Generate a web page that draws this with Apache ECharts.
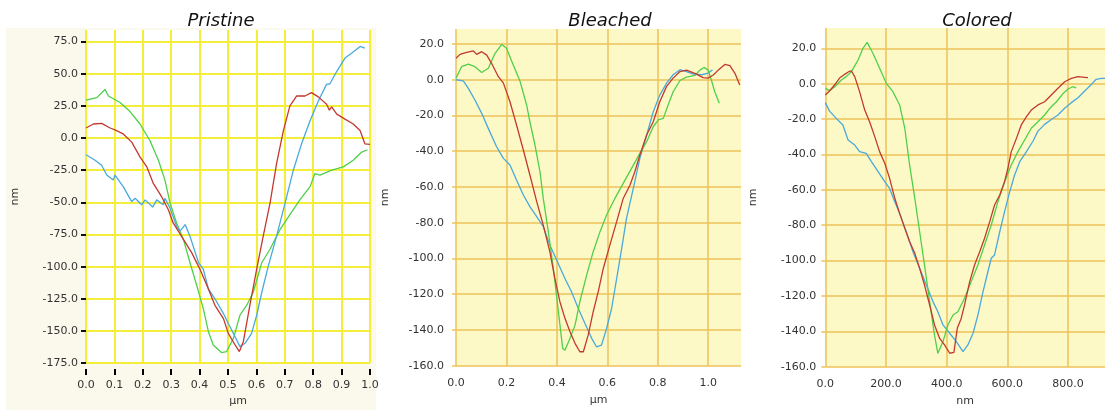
<!DOCTYPE html>
<html>
<head>
<meta charset="utf-8">
<title>AFM line profiles</title>
<script src="https://cdn.jsdelivr.net/npm/echarts/dist/echarts.min.js"></script>
<style>
  html, body { margin: 0; padding: 0; background: #ffffff; }
  #chart { width: 1105px; height: 412px; }
</style>
</head>
<body>
<div id="chart"></div>
<script>
// Panel titles and axis units
const panelTitles = ['Pristine', 'Bleached', 'Colored'];
const xUnits = ['µm', 'µm', 'nm'];
const yUnit = 'nm';

// Pristine profiles: [position (µm), height (nm)]
const pristineRed = [[0,7.8],[0.026,10.9],[0.055,11.4],[0.085,7.8],[0.102,6.3],[0.131,3.2],[0.161,-3.2],[0.19,-14.7],[0.214,-22.4],[0.237,-35.3],[0.266,-45.5],[0.29,-55.8],[0.307,-66],[0.343,-78.8],[0.372,-89.1],[0.401,-101.9],[0.431,-117.3],[0.454,-130.1],[0.484,-140.4],[0.501,-151.9],[0.525,-160.9],[0.54,-166],[0.554,-158.3],[0.577,-130.1],[0.601,-101.9],[0.624,-76.3],[0.648,-50.6],[0.671,-19.9],[0.695,5.8],[0.718,25],[0.742,32.7],[0.771,32.7],[0.794,35.3],[0.818,32],[0.847,26.3],[0.857,21.7],[0.865,24.2],[0.883,18.6],[0.912,14.7],[0.918,16],[0.941,10.9],[0.965,5.8],[0.982,-4.5],[1.0,-5]];
const pristineGreen = [[0,29.4],[0.038,31.4],[0.067,37.8],[0.079,32.7],[0.12,27.6],[0.155,20.6],[0.19,10.9],[0.225,-1.9],[0.255,-17.3],[0.278,-32.7],[0.296,-50.6],[0.319,-66],[0.343,-78.8],[0.366,-96.8],[0.39,-114.7],[0.413,-132.7],[0.431,-150.6],[0.448,-160.9],[0.477,-166.8],[0.495,-166],[0.519,-155.8],[0.542,-137.8],[0.566,-130],[0.589,-119.9],[0.619,-96.8],[0.648,-86.5],[0.683,-71.2],[0.718,-59.6],[0.753,-48.1],[0.789,-37.8],[0.806,-27.6],[0.824,-28.8],[0.865,-25],[0.906,-22.4],[0.941,-17.3],[0.971,-10.9],[0.991,-9.1]];
const pristineBlue = [[0,-13],[0.032,-17.3],[0.055,-21.2],[0.073,-28.8],[0.096,-32.7],[0.102,-28.8],[0.131,-37.8],[0.161,-49.4],[0.173,-46.8],[0.196,-51.9],[0.208,-48.1],[0.235,-53.7],[0.249,-48.1],[0.272,-51.9],[0.278,-46.8],[0.296,-54.5],[0.319,-68.6],[0.331,-72.4],[0.349,-67.3],[0.366,-76.3],[0.396,-96.8],[0.413,-101.9],[0.431,-117.3],[0.454,-125],[0.484,-136.5],[0.501,-144.2],[0.525,-154.5],[0.542,-162.2],[0.56,-159.6],[0.583,-151.9],[0.601,-137.8],[0.619,-119.9],[0.642,-99.4],[0.671,-76.3],[0.701,-50.6],[0.73,-25],[0.759,-4.5],[0.789,13.5],[0.818,28.8],[0.847,41.7],[0.859,42.2],[0.883,51.9],[0.912,62.2],[0.935,66],[0.965,71.2],[0.982,69.9]];

// Bleached profiles: [position (µm), height (nm)]
const bleachedRed = [[0,12],[0.016,14.2],[0.042,15.3],[0.069,16.1],[0.082,14.2],[0.102,15.7],[0.122,13.8],[0.141,9.2],[0.168,1.7],[0.188,-1.9],[0.214,-12.3],[0.24,-25.3],[0.267,-39.3],[0.293,-53.3],[0.32,-68.2],[0.346,-81.3],[0.372,-96.2],[0.392,-111.2],[0.412,-124.2],[0.432,-133.5],[0.452,-141],[0.472,-147.5],[0.491,-152.2],[0.505,-152.2],[0.524,-142.9],[0.544,-129.8],[0.564,-118.6],[0.584,-105.6],[0.61,-92.5],[0.637,-79.4],[0.663,-66.4],[0.69,-58.9],[0.709,-51.5],[0.729,-42.1],[0.756,-30.9],[0.782,-23.5],[0.808,-12.3],[0.835,-3.7],[0.861,0.9],[0.888,4.6],[0.914,5.4],[0.947,3.6],[0.98,1.2],[1.0,0.9],[1.02,2.7],[1.04,5.4],[1.066,8.6],[1.086,7.9],[1.106,3.6],[1.125,-3]];
const bleachedGreen = [[0,0.8],[0.022,7.3],[0.049,8.8],[0.075,7.3],[0.102,4.1],[0.128,6.4],[0.155,14.8],[0.181,19.8],[0.2,17.6],[0.227,8.2],[0.254,-0.9],[0.28,-14.1],[0.293,-23.5],[0.313,-36.5],[0.333,-51.5],[0.346,-66.4],[0.366,-85],[0.386,-105.6],[0.406,-129.8],[0.423,-150.3],[0.432,-151.3],[0.452,-144.7],[0.472,-137.3],[0.491,-124.2],[0.518,-109.3],[0.544,-96.2],[0.571,-85],[0.597,-75.7],[0.63,-66.4],[0.663,-58],[0.696,-49.6],[0.729,-41.2],[0.756,-34.7],[0.782,-26.3],[0.802,-22.5],[0.822,-21.6],[0.841,-14.1],[0.861,-6.7],[0.888,-0.4],[0.914,1.5],[0.947,2.4],[0.967,5.4],[0.983,6.9],[1.0,5.4],[1.013,-0.4],[1.026,-6.7],[1.044,-13.2]];
const bleachedBlue = [[0,0],[0.029,-0.6],[0.049,-4.8],[0.075,-11.3],[0.102,-18.8],[0.128,-27.2],[0.161,-37.5],[0.188,-44],[0.214,-47.7],[0.24,-56.1],[0.267,-64.5],[0.293,-71],[0.32,-76.6],[0.346,-82.2],[0.372,-92.5],[0.399,-100.9],[0.432,-111.2],[0.458,-118.6],[0.485,-128],[0.511,-136.3],[0.538,-144.7],[0.557,-149.4],[0.577,-148.5],[0.597,-139.2],[0.617,-128],[0.637,-111.2],[0.657,-94.4],[0.676,-77.6],[0.703,-60.8],[0.729,-44],[0.756,-30.9],[0.782,-17.9],[0.808,-8.6],[0.835,-1.9],[0.861,2.8],[0.888,5.6],[0.914,4.6],[0.941,3.2],[0.974,2.8],[1.0,3.7],[1.017,5.6]];

// Colored profiles: [position (nm), height (nm)]
const coloredRed = [[0,-6.4],[14,-4.1],[31,-0.6],[47,3.2],[64,5.3],[77,6.8],[86,7.2],[97,4],[113,-4.5],[130,-14.9],[146,-21.5],[163,-29.9],[179,-38.4],[196,-45],[212,-53.5],[229,-64.8],[245,-73.3],[262,-81.8],[278,-89.3],[295,-95.9],[311,-104.4],[327,-113.8],[344,-125.1],[360,-136.4],[377,-144],[393,-147.7],[410,-152.4],[424,-151.9],[435,-138.3],[448,-132.7],[459,-125.1],[476,-111.9],[492,-102.5],[509,-95],[525,-87.4],[542,-78],[558,-68.6],[575,-62.9],[591,-55.4],[602,-47.8],[613,-38.4],[630,-30.9],[646,-23.3],[663,-18.6],[679,-14.9],[701,-12],[723,-10.2],[745,-6.4],[767,-2.6],[789,1.1],[811,3],[833,4],[855,3.6],[866,3.4]];
const coloredGreen = [[0,-2.6],[14,-3.9],[31,-1.7],[53,2.1],[69,4],[86,6.8],[108,13.4],[124,20],[138,23.4],[157,17.2],[179,8.7],[201,0.2],[223,-4.5],[245,-12],[262,-25.2],[278,-46],[295,-64.8],[311,-83.7],[327,-102.5],[344,-123.2],[360,-142.1],[371,-152.4],[388,-145.8],[404,-136.4],[421,-130.8],[437,-128.9],[459,-121.3],[481,-111.9],[503,-102.5],[525,-91.2],[547,-79.9],[569,-66.7],[591,-55.4],[613,-46],[635,-38.4],[657,-31.8],[679,-25.2],[701,-21.5],[723,-17.7],[740,-13.9],[762,-10.2],[784,-5.5],[800,-3],[816,-1.7],[827,-2.3]];
const coloredBlue = [[0,-10.7],[14,-15.5],[36,-19.6],[58,-23.3],[75,-31.8],[97,-34.7],[113,-38.4],[135,-39.4],[152,-44.1],[174,-49.7],[196,-55.4],[212,-59.2],[229,-66.7],[245,-73.3],[267,-83.7],[289,-95],[311,-104.4],[333,-113.8],[355,-123.2],[371,-128.9],[388,-136.4],[410,-141.1],[432,-145.8],[454,-151.5],[470,-147.7],[487,-141.1],[503,-130.8],[520,-117.6],[536,-106.3],[547,-98.7],[558,-96.8],[575,-83.7],[591,-72.3],[608,-61],[624,-51.6],[641,-44.1],[663,-38.4],[685,-32.4],[701,-26.8],[723,-23],[745,-20.2],[767,-17.7],[789,-13.9],[811,-10.7],[833,-7.9],[855,-4.1],[877,-0.4],[893,2.5],[910,3],[922,3]];

const RED = '#c3392e';
const GREEN = '#4fd04a';
const BLUE = '#4aa9dc';
const FONT = 'DejaVu Sans';
const LABEL_COLOR = '#333333';

const fmt1 = v => v.toFixed(1);

// Plot rectangles (pixels) for the three panels
const grids = [
  { left: 86,  top: 30, width: 284, height: 336.7, show: true, backgroundColor: '#ffffff', borderWidth: 0 },
  { left: 456, top: 29, width: 285, height: 336.7, show: true, backgroundColor: '#fcf9c6', borderWidth: 0 },
  { left: 825.3, top: 28, width: 279.7, height: 338.7, show: true, backgroundColor: '#fcf9c6', borderWidth: 0 }
];

const gridLineP = { show: true, lineStyle: { color: '#f2ee3a', width: 2 } };
const gridLineY = { show: true, lineStyle: { color: '#eec25a', width: 1.5 } };
const hiddenLine = () => ({ show: false, onZero: false });

const xAxes = [
  {
    // ticks sit a few pixels below the plot, as on the instrument printout
    gridIndex: 0, type: 'value', position: 'bottom', min: 0, max: 1.0, interval: 0.1, offset: 6,
    name: xUnits[0], nameLocation: 'middle', nameGap: 25,
    nameTextStyle: { fontFamily: FONT, fontSize: 11, color: LABEL_COLOR, padding: [0, 0, 0, 20] },
    axisLine: hiddenLine(),
    axisTick: { show: true, length: 6, lineStyle: { color: '#000000', width: 2 } },
    axisLabel: { formatter: fmt1, margin: 11, fontFamily: FONT, fontSize: 11, color: LABEL_COLOR },
    splitLine: gridLineP
  },
  {
    gridIndex: 1, type: 'value', position: 'bottom', min: 0, max: 1.13, interval: 0.2,
    name: xUnits[1], nameLocation: 'middle', nameGap: 29,
    nameTextStyle: { fontFamily: FONT, fontSize: 11, color: LABEL_COLOR },
    axisLine: hiddenLine(), axisTick: { show: false },
    axisLabel: { formatter: fmt1, margin: 12, fontFamily: FONT, fontSize: 11, color: LABEL_COLOR, showMaxLabel: false },
    splitLine: Object.assign({ showMaxLine: false }, gridLineY)
  },
  {
    gridIndex: 2, type: 'value', position: 'bottom', min: 0, max: 922, interval: 200,
    name: xUnits[2], nameLocation: 'middle', nameGap: 29,
    nameTextStyle: { fontFamily: FONT, fontSize: 11, color: LABEL_COLOR },
    axisLine: hiddenLine(), axisTick: { show: false },
    axisLabel: { formatter: fmt1, margin: 12, fontFamily: FONT, fontSize: 11, color: LABEL_COLOR, showMaxLabel: false },
    splitLine: Object.assign({ showMaxLine: false }, gridLineY)
  }
];

const yAxes = [
  {
    gridIndex: 0, type: 'value', min: -175, max: 84, interval: 25,
    name: yUnit, nameLocation: 'middle', nameGap: 65,
    nameTextStyle: { fontFamily: FONT, fontSize: 11, color: LABEL_COLOR },
    axisLine: hiddenLine(),
    axisTick: { show: true, length: 5, lineStyle: { color: '#111111', width: 2 } },
    axisLabel: { formatter: fmt1, margin: 8, fontFamily: FONT, fontSize: 11, color: LABEL_COLOR, showMaxLabel: false },
    splitLine: Object.assign({ showMaxLine: false }, gridLineP)
  },
  {
    gridIndex: 1, type: 'value', min: -160, max: 28.4, interval: 20,
    name: yUnit, nameLocation: 'middle', nameGap: 65,
    nameTextStyle: { fontFamily: FONT, fontSize: 11, color: LABEL_COLOR },
    axisLine: hiddenLine(),
    axisTick: { show: true, length: 4, lineStyle: { color: '#eec25a', width: 1.5 } },
    axisLabel: { formatter: fmt1, margin: 12, fontFamily: FONT, fontSize: 11, color: LABEL_COLOR, showMaxLabel: false },
    splitLine: Object.assign({ showMaxLine: false }, gridLineY)
  },
  {
    gridIndex: 2, type: 'value', min: -160, max: 31.5, interval: 20,
    name: yUnit, nameLocation: 'middle', nameGap: 67,
    nameTextStyle: { fontFamily: FONT, fontSize: 11, color: LABEL_COLOR },
    axisLine: hiddenLine(),
    axisTick: { show: true, length: 4, lineStyle: { color: '#eec25a', width: 1.5 } },
    axisLabel: { formatter: fmt1, margin: 9, fontFamily: FONT, fontSize: 11, color: LABEL_COLOR, showMaxLabel: false },
    splitLine: Object.assign({ showMaxLine: false }, gridLineY)
  }
];

function profile(data, color, idx) {
  return {
    type: 'line', data: data, xAxisIndex: idx, yAxisIndex: idx,
    showSymbol: false, symbol: 'none', smooth: false,
    lineStyle: { color: color, width: 1.3 },
    z: 3
  };
}

const series = [
  profile(pristineGreen, GREEN, 0), profile(pristineBlue, BLUE, 0), profile(pristineRed, RED, 0),
  profile(bleachedBlue, BLUE, 1), profile(bleachedGreen, GREEN, 1), profile(bleachedRed, RED, 1),
  profile(coloredBlue, BLUE, 2), profile(coloredGreen, GREEN, 2), profile(coloredRed, RED, 2)
];

// Panel titles centred above each plot
const titleCenters = [216, 605, 972];
const titleStyle = { fontFamily: FONT, fontStyle: 'italic', fontSize: 18, fontWeight: 'normal', color: '#111111' };

const chart = echarts.init(document.getElementById('chart'), null, { renderer: 'canvas' });
chart.setOption({
  animation: false,
  backgroundColor: '#ffffff',
  title: panelTitles.map((t, i) => ({
    text: t, left: titleCenters[i], top: 7, textAlign: 'center', textStyle: titleStyle
  })),
  graphic: [
    // cream panel behind the first plot
    { type: 'rect', left: 6, top: 28, shape: { width: 370, height: 382 }, style: { fill: '#fbf8ec' }, z: -10, silent: true }
  ],
  grid: grids,
  xAxis: xAxes,
  yAxis: yAxes,
  series: series
});
</script>
</body>
</html>
